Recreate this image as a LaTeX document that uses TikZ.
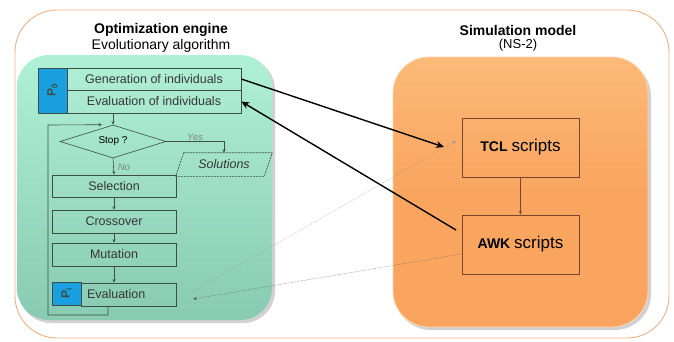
\documentclass[tikz,border=0pt]{standalone}
\usepackage{fontspec}
\setmainfont{Liberation Sans}
\usetikzlibrary{shapes.geometric,arrows.meta,calc,shadows}
\definecolor{frameor}{RGB}{238,178,130}
\definecolor{greentop}{RGB}{176,240,214}
\definecolor{greenbot}{RGB}{136,202,178}
\definecolor{orangebox}{RGB}{249,165,95}
\definecolor{orangetop}{RGB}{252,185,120}
\definecolor{bluep}{RGB}{26,160,224}
\definecolor{boxline}{RGB}{60,78,70}
\definecolor{txtg}{RGB}{55,55,55}
\definecolor{lblg}{RGB}{120,135,128}
\definecolor{brownline}{RGB}{120,70,40}
\tikzset{
  fbox/.style={draw=boxline, line width=0.6pt, rectangle, inner sep=0pt, text=txtg, font=\fontsize{12.5}{14}\selectfont},
  pbox/.style={draw=boxline, line width=0.6pt, fill=bluep, rectangle, inner sep=0pt},
  sbox/.style={draw=brownline, line width=0.6pt, rectangle, inner sep=0pt, minimum width=117pt, minimum height=59pt},
  flow/.style={draw=boxline, line width=0.6pt, -{Stealth[length=3.5pt,width=3pt]}},
  lbl/.style={text=lblg, font=\fontsize{9.5}{11}\selectfont\itshape, inner sep=1pt},
  thick arr/.style={draw=black, line width=1.4pt, -{Stealth[length=8pt,width=7pt]}},
  dot arr/.style={line width=0.45pt, densely dotted, -{Stealth[length=4pt,width=3pt]}},
  title/.style={font=\fontsize{14}{16}\selectfont\bfseries, inner sep=0pt},
  subtitle/.style={font=\fontsize{14}{16}\selectfont, inner sep=0pt},
  ptext/.style={rotate=90, inner sep=0pt, font=\fontsize{12}{14}\selectfont\bfseries, text=boxline}
}
\begin{document}
\begin{tikzpicture}[x=1pt,y=-1pt]
\useasboundingbox (0,0) rectangle (674,341);
\fill[white] (0,0) rectangle (674,341);
% outer frame
\draw[frameor, line width=0.9pt, rounded corners=42pt] (15,10) rectangle (669,338);
% green panel
\fill[black, opacity=0.18, rounded corners=32pt] (19,58) rectangle (275,323);
\shade[top color=greentop, bottom color=greenbot, rounded corners=32pt] (17,55) rectangle (272,320);
% orange panel
\fill[black, opacity=0.18, rounded corners=36pt] (395,60) rectangle (651,330);
\shade[top color=orangetop, bottom color=orangebox, middle color=orangebox, rounded corners=36pt] (393,57) rectangle (648,327);
\draw[orangetop!60!white, line width=0.8pt, rounded corners=36pt] (393,57) rectangle (648,327);

% titles
\node[title] (t1) at (161,30) {Optimization engine};
\node[subtitle] (t2) at (161,46) {Evolutionary algorithm};
\node[title] (t3) at (518,30) {Simulation model};
\node[subtitle, font=\fontsize{13}{15}\selectfont] (t4) at (518,45.5) {(NS-2)};

% P0 block
\node[pbox, minimum width=29pt, minimum height=45pt] (p0) at (52.5,90.5) {};
\node[ptext] (p0t) at (p0.center) {P\textsubscript{0}};
\node[fbox, minimum width=174pt, minimum height=22pt] (gen) at (154,79) {Generation of individuals};
\node[fbox, minimum width=174pt, minimum height=23pt] (evi) at (154,101.5) {Evaluation of individuals};

% decision
\node[diamond, draw=boxline, line width=0.6pt, inner sep=0pt, aspect=3.2, minimum width=106pt, minimum height=33pt, text=black, font=\fontsize{10}{11}\selectfont] (dia) at (113,141.5) {Stop ?};
\node[fbox, minimum width=88pt, minimum height=23pt, draw=none, font=\fontsize{12.5}{14}\selectfont\itshape] (sol) at (224,164.5) {Solutions};
\draw[boxline, line width=0.6pt, dash pattern=on 2pt off 1pt] ($(sol.north west)+(4,0)$) -- ($(sol.north east)+(4,0)$) -- ($(sol.south east)+(-4,0)$) -- ($(sol.south west)+(-4,0)$) -- cycle;

\node[fbox, minimum width=124pt, minimum height=22pt] (sel) at (114,186) {Selection};
\node[fbox, minimum width=124pt, minimum height=23pt] (cro) at (114,221.5) {Crossover};
\node[fbox, minimum width=124pt, minimum height=23pt] (mut) at (114,254.5) {Mutation};
\node[fbox, minimum width=95pt, minimum height=23pt, text width=83pt, align=left, inner xsep=6pt] (eva) at (128.5,294.5) {Evaluation};
\node[pbox, minimum width=29pt, minimum height=23pt] (pi) at (66.5,293.5) {};
\node[ptext] (pit) at (pi.center) {P\textsubscript{i}};

% flow arrows
\draw[flow] (evi.south -| dia.north) -- (dia.north);
\draw[flow] (dia.south) -- (sel.north) node[lbl, pos=0.55, right=3pt] (no) {No};
\draw[flow] (dia.east) -| (sol.north) node[lbl, pos=0.25, above=0pt] (yes) {Yes};
\draw[flow] (sel.south) -- (cro.north);
\draw[flow] (cro.south) -- (mut.north);
\draw[flow] (mut.south) -- (mut.south |- eva.north);
\coordinate (loopin) at ($(dia.north)+(-11,0)$);
\draw[flow] (eva.south -| 108,0) -- (108,315) -- (48,315) -- (48,125) -- (loopin);

% right side
\node[sbox] (tcl) at (520.5,147.5) {\fontsize{14}{16}\selectfont\bfseries TCL \fontsize{17}{19}\mdseries scripts};
\node[sbox] (awk) at (520.5,244.5) {\fontsize{14}{16}\selectfont\bfseries AWK \fontsize{17}{19}\mdseries scripts};
\draw[draw=brownline, line width=0.6pt, -{Stealth[length=4pt,width=3pt]}] (tcl.south) -- (awk.north);

% connectors
\coordinate (tclin) at (444,147);
\coordinate (awkout) at (456,230);
\coordinate (evout) at (192,292);
\coordinate (tclin2) at (456,141);
\coordinate (evin) at (193,299);
\draw[thick arr] (gen.east) -- (tclin);
\draw[thick arr] (awkout) -- (evi.east);
\draw[dot arr, draw=black!40] (evout) -- (tclin2);
\draw[dot arr, draw=black!65] (awk.west |- 0,254) -- (evin);
\end{tikzpicture}
\end{document}
